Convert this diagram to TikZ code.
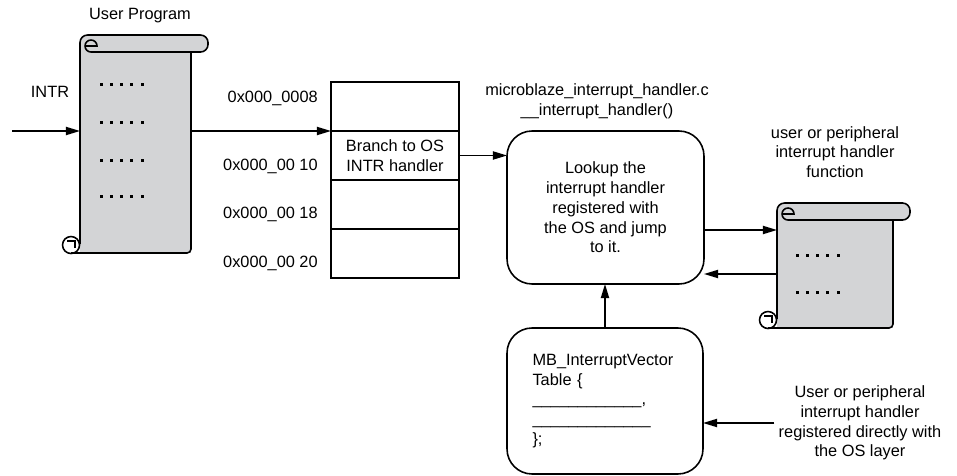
\documentclass[tikz,border=0pt]{standalone}
\usepackage{fontspec}
\setmainfont{Liberation Sans}
\usetikzlibrary{arrows.meta,positioning}
\definecolor{scrollgray}{RGB}{211,212,214}
\tikzset{
	arr/.style={-{Triangle[length=8pt,width=4.6pt]}},
	memrow/.style={draw, minimum width=2.56cm, minimum height=0.98cm, inner sep=0pt, outer sep=0pt, align=center},
	roundbox/.style={draw, rounded corners=0.5cm, inner sep=0pt, outer sep=0pt},
	scrollbody/.style={fill=scrollgray, inner sep=0pt, outer sep=0pt},
	lbl/.style={inner sep=2pt, align=center}
}
\newcommand{\scrollparts}[3]{%
	\begin{scope}[shift={(#1.north west)}]
		\draw[fill=scrollgray, rounded corners=0.15cm](0, #3-9) -- (0, -17) -- (#2+17, -17) -- (#2+17, 0) -- (11, 0);
		\draw(11, 0) arc[start angle=90, end angle=360, radius=6] -- (5, -6);
		\draw[rounded corners=0.08cm](#2, 0) -- (#2, #3) -- (-9, #3);
		\draw(-9, #3-8) circle[radius=8.5];
		\draw(-13, #3-12) -- (-5, #3-12) -- (-5, #3-5);
	\end{scope}}
\begin{document}
\begin{tikzpicture}[x=0.02cm, y=-0.02cm, line width=0.9pt,
	every node/.style={font=\fontsize{9.3pt}{11.2pt}\selectfont}]
	\useasboundingbox(0, 0) rectangle (957, 476);

		\node[scrollbody, minimum width=2.22cm, minimum height=4.02cm](prog) at(135.5, 152.5){};
		\scrollparts{prog}{111}{201}
		\foreach \y in {85, 123, 161, 197}
			\foreach \i in {0, ..., 4}
				\fill(101+10.3*\i-1.5, \y-1.5) rectangle ++(3, 3);

		\node[scrollbody, minimum width=2.32cm, minimum height=2.16cm](func) at(835, 274){};
		\scrollparts{func}{116}{108}
		\foreach \y in {256, 293}
			\foreach \i in {0, ..., 4}
				\fill(797+10.3*\i-1.5, \y-1.5) rectangle ++(3, 3);

		\node[memrow](r1) at(395, 106.5){};
		\node[memrow, below=0pt of r1](r2){Branch to OS\\INTR handler};
		\node[memrow, below=0pt of r2](r3){};
		\node[memrow, below=0pt of r3](r4){};

		\node[roundbox, minimum width=3.94cm, minimum height=3.06cm, align=center](look) at(605.5, 207.5){Lookup the\\interrupt handler\\registered with\\the OS and jump\\to it.};
		\node[roundbox, minimum width=3.92cm, minimum height=2.92cm, text width=2.9cm, align=left](vect) at(605, 401){MB\_InterruptVector\\Table \{\\\_\_\_\_\_\_\_\_\_\_\_\_,\\\_\_\_\_\_\_\_\_\_\_\_\_\_\\\};};

		\node[lbl](title) at(140, 16){User Program};
		\node[lbl](intrlbl) at(50, 92){INTR};
		\node[lbl, anchor=east](a08) at(322, 98){0x000\_0008};
		\node[lbl, anchor=east](a10) at(322, 166){0x000\_00 10};
		\node[lbl, anchor=east](a18) at(322, 214){0x000\_00 18};
		\node[lbl, anchor=east](a20) at(322, 263){0x000\_00 20};
		\node[lbl](file) at(597, 101){microblaze\_interrupt\_handler.c\\\_\_interrupt\_handler()};
		\node[lbl](funclbl) at(835, 152){user or peripheral\\interrupt handler\\function};
		\node[lbl](usr) at(860, 423){User or peripheral\\interrupt handler\\registered directly with\\the OS layer};

		\coordinate(intr) at(12, 131);
		\draw[arr](intr) -- (intr -| prog.west);
		\draw[arr](prog.east |- r2.north west) -- (r2.north west);
		\draw[arr](r2.east) -- (r2.east -| look.west);
		\draw[arr]([yshift=0.88cm]func.west -| look.east) -- ([yshift=0.88cm]func.west);
		\draw[arr](func.west) -- (func.west -| look.east);
		\draw[arr](vect.north) -- (vect.north |- look.south);
		\draw[arr](usr.west) -- (usr.west -| vect.east);
\end{tikzpicture}
\end{document}
